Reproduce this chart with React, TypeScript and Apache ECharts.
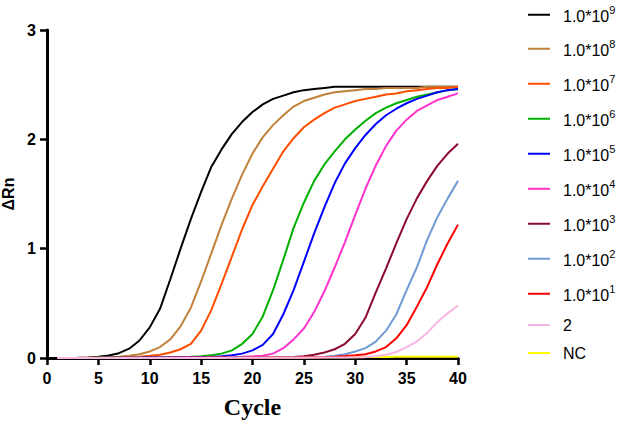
import React, { useEffect, useRef } from "react";
import * as echarts from "echarts";

const cycles = [1, 2, 3, 4, 5, 6, 7, 8, 9, 10, 11, 12, 13, 14, 15, 16, 17, 18, 19, 20, 21, 22, 23, 24, 25, 26, 27, 28, 29, 30, 31, 32, 33, 34, 35, 36, 37, 38, 39, 40];

const seriesNames = ["1.0*10^9", "1.0*10^8", "1.0*10^7", "1.0*10^6", "1.0*10^5", "1.0*10^4", "1.0*10^3", "1.0*10^2", "1.0*10^1", "2", "NC"];
const seriesColors = ["#000000", "#C0803A", "#FF4D00", "#00B000", "#0000FF", "#FF33CC", "#8B0A2E", "#6E9BD3", "#FF0000", "#F8B6E4", "#FFFF00"];

const e9 = [0, 0.001, 0.002, 0.004, 0.011, 0.022, 0.044, 0.085, 0.16, 0.28, 0.45, 0.72, 1.0, 1.27, 1.52, 1.75, 1.91, 2.05, 2.16, 2.25, 2.32, 2.37, 2.4, 2.43, 2.45, 2.46, 2.47, 2.48, 2.48, 2.48, 2.48, 2.48, 2.48, 2.48, 2.48, 2.48, 2.48, 2.48, 2.48, 2.48];
const e8 = [0, 0, 0.001, 0.002, 0.004, 0.007, 0.012, 0.02, 0.035, 0.06, 0.1, 0.17, 0.29, 0.46, 0.7, 0.96, 1.22, 1.46, 1.68, 1.87, 2.02, 2.13, 2.22, 2.3, 2.35, 2.38, 2.41, 2.43, 2.44, 2.45, 2.46, 2.46, 2.47, 2.47, 2.47, 2.47, 2.48, 2.48, 2.48, 2.48];
const e7 = [0, 0, 0.001, 0.002, 0.003, 0.004, 0.006, 0.008, 0.012, 0.02, 0.03, 0.05, 0.08, 0.13, 0.25, 0.44, 0.68, 0.93, 1.18, 1.4, 1.57, 1.73, 1.89, 2.01, 2.11, 2.18, 2.24, 2.29, 2.32, 2.35, 2.37, 2.39, 2.41, 2.42, 2.44, 2.45, 2.46, 2.47, 2.47, 2.48];
const e6 = [0, 0, 0.001, 0.001, 0.002, 0.002, 0.003, 0.003, 0.004, 0.005, 0.006, 0.007, 0.009, 0.012, 0.016, 0.025, 0.04, 0.07, 0.13, 0.22, 0.38, 0.62, 0.9, 1.19, 1.42, 1.62, 1.77, 1.89, 2.0, 2.09, 2.17, 2.24, 2.29, 2.33, 2.36, 2.39, 2.41, 2.43, 2.45, 2.46];
const e5 = [0, 0, 0, 0.001, 0.001, 0.002, 0.002, 0.003, 0.003, 0.004, 0.005, 0.005, 0.006, 0.007, 0.008, 0.01, 0.015, 0.025, 0.04, 0.07, 0.12, 0.22, 0.4, 0.62, 0.88, 1.14, 1.38, 1.6, 1.78, 1.92, 2.04, 2.14, 2.22, 2.28, 2.33, 2.37, 2.4, 2.43, 2.45, 2.46];
const e4 = [0, 0, 0, 0, 0.001, 0.001, 0.001, 0.002, 0.002, 0.002, 0.003, 0.003, 0.004, 0.004, 0.005, 0.006, 0.007, 0.009, 0.011, 0.015, 0.02, 0.04, 0.09, 0.17, 0.27, 0.42, 0.61, 0.83, 1.06, 1.31, 1.55, 1.76, 1.94, 2.08, 2.18, 2.26, 2.31, 2.36, 2.39, 2.42];
const e3 = [0, 0, 0, 0, 0, 0.001, 0.001, 0.001, 0.001, 0.002, 0.002, 0.002, 0.002, 0.003, 0.003, 0.003, 0.004, 0.004, 0.004, 0.005, 0.005, 0.006, 0.008, 0.01, 0.015, 0.03, 0.05, 0.08, 0.13, 0.22, 0.37, 0.6, 0.82, 1.05, 1.27, 1.46, 1.62, 1.76, 1.87, 1.96];
const e2 = [0, 0, 0, 0, 0, 0, 0.001, 0.001, 0.001, 0.001, 0.002, 0.002, 0.002, 0.002, 0.003, 0.003, 0.003, 0.004, 0.004, 0.004, 0.005, 0.005, 0.006, 0.006, 0.007, 0.008, 0.012, 0.02, 0.035, 0.06, 0.09, 0.15, 0.25, 0.4, 0.62, 0.83, 1.08, 1.29, 1.46, 1.62];
const e1 = [0, 0, 0, 0, 0, 0, 0, 0.001, 0.001, 0.001, 0.001, 0.002, 0.002, 0.002, 0.002, 0.003, 0.003, 0.003, 0.003, 0.004, 0.004, 0.004, 0.005, 0.005, 0.006, 0.007, 0.008, 0.012, 0.018, 0.025, 0.035, 0.06, 0.1, 0.18, 0.3, 0.47, 0.65, 0.86, 1.05, 1.22];
const two = [0, 0, 0, 0, 0, 0, 0, 0, 0, 0, 0, 0, 0.001, 0.001, 0.001, 0.001, 0.001, 0.002, 0.002, 0.002, 0.002, 0.002, 0.003, 0.003, 0.003, 0.004, 0.004, 0.005, 0.005, 0.006, 0.008, 0.015, 0.03, 0.055, 0.1, 0.15, 0.23, 0.33, 0.41, 0.48];
const nc = [0, 0, 0, 0, 0, 0, 0, 0, 0, 0, 0.001, 0.001, 0.001, 0.002, 0.002, 0.002, 0.002, 0.003, 0.003, 0.003, 0.003, 0.004, 0.004, 0.004, 0.005, 0.005, 0.006, 0.006, 0.007, 0.008, 0.009, 0.01, 0.01, 0.011, 0.011, 0.011, 0.012, 0.012, 0.012, 0.012];

const xTicks = { min: 0, max: 40, interval: 5 };
const yTicks = { min: 0, max: 3, interval: 1 };

export default function App() {
  const ref = useRef<HTMLDivElement>(null);
  useEffect(() => {
    const chart = echarts.init(ref.current!, null, { renderer: "svg" });
    const valueSets = [e9, e8, e7, e6, e5, e4, e3, e2, e1, two, nc];
    const legendCenters = [14, 48, 83, 118, 153, 188, 223, 258, 293, 326, 354];
    const font = "'Liberation Sans', Arial, sans-serif";
    chart.setOption({
      animation: false,
      backgroundColor: "#ffffff",
      grid: { left: 47, right: 166, top: 30, bottom: 69, containLabel: false, outerBoundsMode: "none" },
      xAxis: {
        type: "value",
        min: xTicks.min,
        max: xTicks.max,
        interval: xTicks.interval,
        name: "Cycle",
        nameLocation: "middle",
        nameGap: 37,
        nameTextStyle: { fontFamily: "'Liberation Serif', 'Times New Roman', serif", fontWeight: "bold", fontSize: 24, color: "#000" },
        axisLine: { show: true, onZero: false, lineStyle: { color: "#000", width: 3 } },
        axisTick: { show: true, length: 7, lineStyle: { color: "#000", width: 2.5 } },
        axisLabel: { fontFamily: font, fontWeight: "bold", fontSize: 16, color: "#000", margin: 12 },
        splitLine: { show: false },
      },
      yAxis: {
        type: "value",
        min: yTicks.min,
        max: yTicks.max,
        interval: yTicks.interval,
        name: "ΔRn",
        nameLocation: "middle",
        nameGap: 28,
        nameTextStyle: { fontFamily: font, fontWeight: "bold", fontSize: 16, color: "#000" },
        axisLine: { show: true, lineStyle: { color: "#000", width: 3 } },
        axisTick: { show: true, length: 7, lineStyle: { color: "#000", width: 2.5 } },
        axisLabel: { fontFamily: font, fontWeight: "bold", fontSize: 16, color: "#000", margin: 11 },
        splitLine: { show: false },
      },
      legend: seriesNames.map((n, i) => {
        const sup = n.indexOf("^") >= 0;
        return {
          data: [n],
          orient: "vertical",
          left: 528,
          top: sup ? legendCenters[i] + 2.7 - 12 : legendCenters[i] - 9,
          padding: 0,
          itemWidth: 22,
          itemHeight: sup ? 6 : 2,
          icon: sup ? "path://M0,0H22V2H0ZM0,6H22V6H0Z" : "rect",
          itemStyle: { borderWidth: 0 },
          selectedMode: false,
          formatter: (name: string) => {
            if (name.indexOf("^") >= 0) {
              const parts = name.split("^");
              return `{b|${parts[0]}}{s|${parts[1]}}`;
            }
            return `{p|${name}}`;
          },
          textStyle: {
            fontFamily: font,
            fontSize: 16,
            color: "#000",
            rich: {
              b: { fontFamily: font, fontSize: 16, color: "#000", lineHeight: 24, padding: [0, 0, 0, 8] },
              s: { fontFamily: font, fontSize: 11, color: "#000", lineHeight: 10, verticalAlign: "top" },
              p: { fontFamily: font, fontSize: 16, color: "#000", padding: [0, 0, 0, 8] },
            },
          },
        };
      }),
      series: seriesNames.map((n, i) => ({
        name: n,
        type: "line",
        z: n === "NC" ? 1 : 2,
        data: cycles.map((c, j) => [c, valueSets[i][j]]),
        symbol: "none",
        smooth: false,
        lineStyle: { color: seriesColors[i], width: 2 },
        itemStyle: { color: seriesColors[i] },
      })),
    });
    return () => chart.dispose();
  }, []);
  return <div ref={ref} style={{ position: "fixed", left: 0, top: 0, width: 624, height: 427, background: "#fff" }} />;
}
